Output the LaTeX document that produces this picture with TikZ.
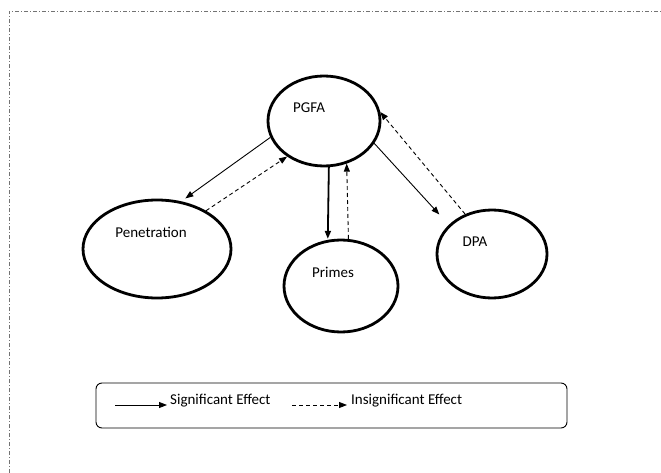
\documentclass[tikz,border=0pt]{standalone}
\usepackage{fontspec}
\setmainfont{Carlito}
\usetikzlibrary{shapes.geometric,arrows.meta}
\begin{document}
\begin{tikzpicture}[x=1pt,y=-1pt,
  oval/.style={draw,ellipse,line width=2.8pt,inner sep=0pt},
  lbl/.style={font=\fontsize{15}{18}\selectfont,inner sep=0pt},
  sig/.style={-{Triangle[length=8pt,width=6pt]},line width=0.9pt},
  insig/.style={-{Triangle[length=8pt,width=6pt]},line width=0.9pt,dash pattern=on 4pt off 3pt},
  frame/.style={draw=black!55,line width=0.8pt,dash pattern=on 4pt off 2pt on 1pt off 2pt}]
\useasboundingbox (0,0) rectangle (661,473);
\draw[frame] (9,473) -- (9,11) -- (661,11);
% ellipses
\node[oval,minimum width=112pt,minimum height=90pt] (pgfa) at (324,121) {};
\node[oval,minimum width=148pt,minimum height=98pt] (pen) at (157,249) {};
\node[oval,minimum width=114pt,minimum height=92pt] (primes) at (341,286) {};
\node[oval,minimum width=110pt,minimum height=88pt] (dpa) at (492,254) {};
% labels
\node[lbl] (pgfaT) at (309,108) {PGFA};
\node[lbl] (penT) at (151,232) {Penetration};
\node[lbl] (primesT) at (333,272) {Primes};
\node[lbl] (dpaT) at (475,242) {DPA};
% connectors
\draw[sig] (pgfa.197) -- (pen.63.4) [shorten >=5pt];
\draw[insig] (pen.38.5) -- (pgfa.224.2);
\draw[sig,line width=1.8pt] (pgfa.-84.4) -- (primes.106) [shorten >=1pt];
\draw[insig] (primes.81) -- (pgfa.-62);
\draw[sig] (pgfa.-24.7) -- (dpa.146.3) [shorten >=14pt];
\draw[insig] (dpa.124.6) -- (pgfa.9.1);
% legend
\draw[line width=0.9pt,rounded corners=6pt] (96,383) rectangle (567,428);
\coordinate (s1) at (115,405);
\coordinate (s2) at (167,405);
\coordinate (d1) at (292,405);
\coordinate (d2) at (347,405);
\draw[sig] (s1) -- (s2);
\draw[insig] (d1) -- (d2);
\node[lbl,anchor=west] (sigT) at (170,401) {Significant Effect};
\node[lbl,anchor=west] (insigT) at (351,401) {Insignificant Effect};
\end{tikzpicture}
\end{document}
